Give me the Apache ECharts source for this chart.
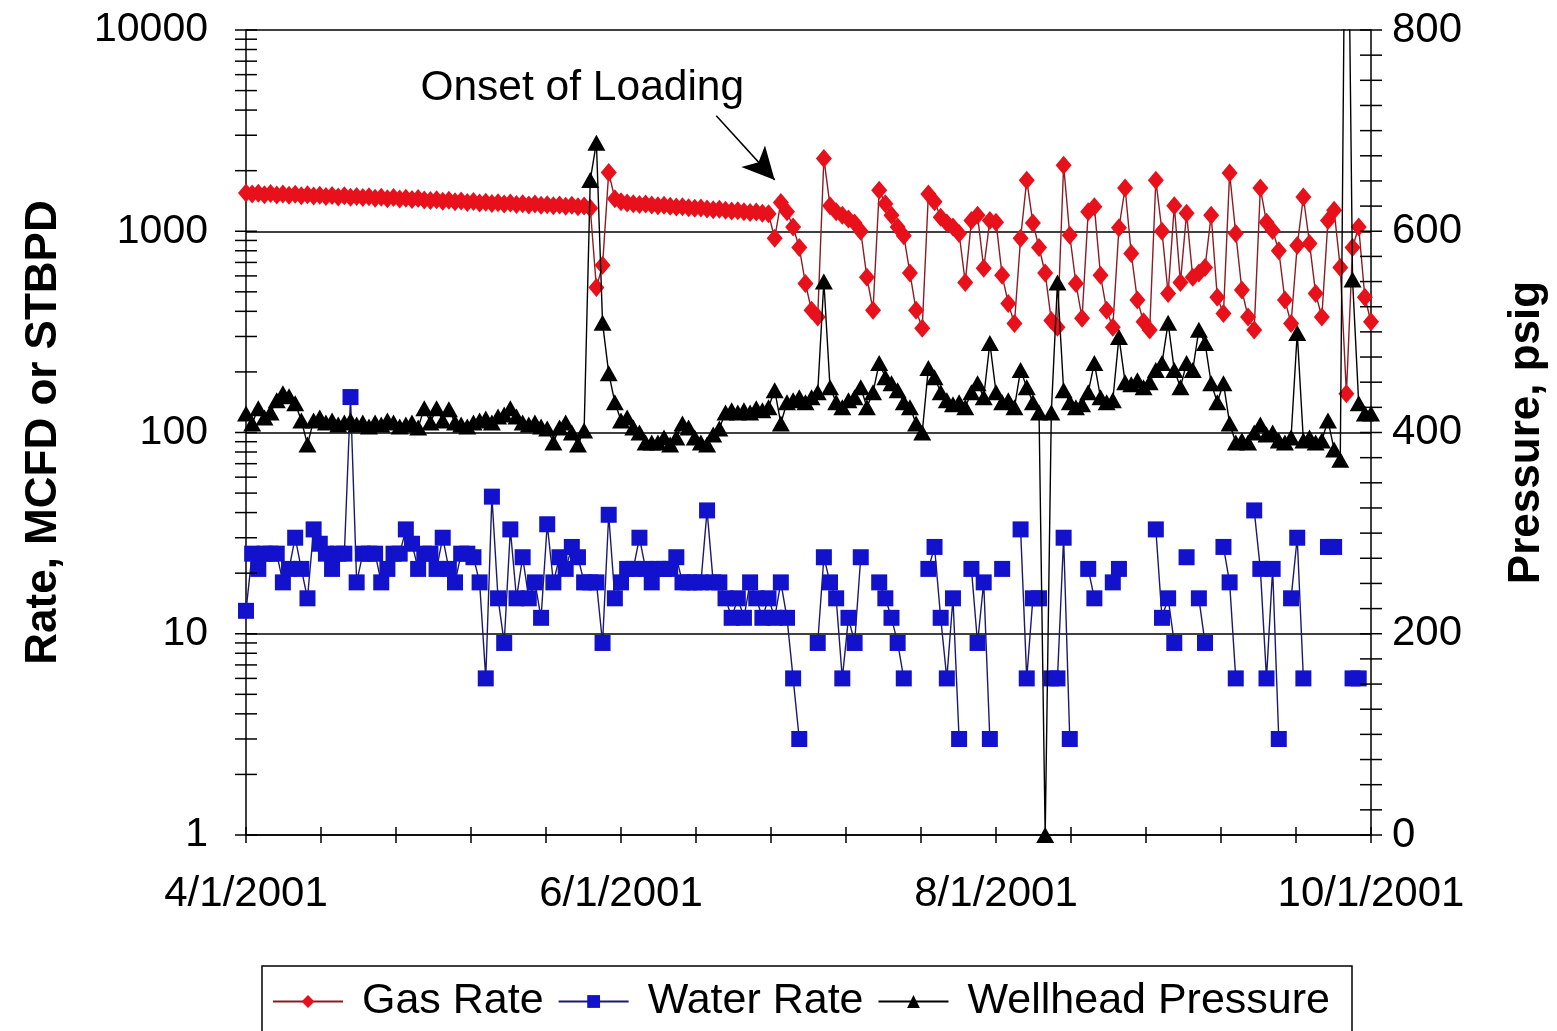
<!DOCTYPE html>
<html><head><meta charset="utf-8">
<script src="https://cdn.jsdelivr.net/npm/echarts@6/dist/echarts.min.js"></script>
<style>html,body{margin:0;padding:0;background:#fff}#c{width:1557px;height:1031px}</style>
</head><body><div id="c"></div>
<script>
// x = days since 4/1/2001 (daily data, 4/1/2001 .. 10/1/2001)
const xTickLabels = ['4/1/2001', '6/1/2001', '8/1/2001', '10/1/2001'];
const xLabelStepDays = 61;
const xMinorStepDays = 61 / 5;
const seriesNames = ['Gas Rate', 'Water Rate', 'Wellhead Pressure'];

// Gas Rate, MCFD
const gasRate = [
  1550,1530,1545,1520,1540,1515,1530,1510,1525,1500,1520,1495,1510,1490,1505,1480,1500,1475,1490,1470,1485,1460,1475,1450,1470,1445,1460,1440,1455,1430,
  1420,1435,1410,1425,1400,1415,1390,1405,1380,1395,1375,1385,1365,1380,1360,1370,1350,1365,1345,1355,1340,1350,1330,1345,1325,1335,
  1300,526,677,1960,1450,
  1400,1380,1370,1360,1365,1350,1340,1345,1330,1320,1325,1310,1300,1305,1290,1280,1285,1270,1260,1265,1250,1240,1245,1230,1220,
  923,1390,1250,1050,830,550,405,375,2300,1340,1250,1200,1150,1100,1000,590,405,1600,1370,1200,1050,950,620,405,330,
  1530,1400,1175,1100,1050,975,557,1130,1200,655,1130,1110,604,438,348,923,1794,1100,830,620,360,333,2130,955,550,370,
  1250,1325,604,405,333,1040,1640,775,455,355,323,1794,1000,490,1340,557,1230,590,620,660,1200,470,390,1945,975,510,
  375,323,1640,1110,1010,800,455,348,850,1480,870,490,375,1130,1270,660,156,830,1050,470,355
];

// Water Rate, STBPD (null = no reading)
const waterRate = [
  13,25,21,25,25,25,18,21,30,21,15,33,28,25,21,25,25,150,18,25,25,25,18,21,25,25,33,28,21,25,25,21,30,21,18,25,25,
  24,18,6,48,15,9,33,15,24,15,18,12,35,18,24,21,27,24,18,18,18,9,39,15,
  18,21,21,30,21,18,21,21,21,24,18,18,18,18,41,18,18,15,12,15,12,18,15,12,15,12,18,12,6,3,
  null,null,9,24,18,15,6,12,9,24,null,null,18,15,12,9,6,null,null,null,
  21,27,12,6,15,3,null,21,9,18,3,null,21,null,null,33,6,15,15,null,6,6,30,3,null,null,21,15,null,null,18,21,
  null,null,null,null,null,33,12,15,9,null,24,null,15,9,null,null,27,18,6,null,null,41,21,6,21,3,null,15,30,6,
  null,null,null,27,27,null,null,6,6,null,null
];

// Wellhead Pressure, psig
const wellheadPressure = [
  419,409,424,415,420,432,439,436,429,412,388,412,415,410,412,408,410,412,408,410,406,410,408,412,410,406,408,410,405,424,410,424,412,423,410,408,406,
  410,412,414,410,416,418,424,416,410,408,410,406,404,390,405,410,400,388,402,
  651,688,509,459,430,
  412,415,405,400,390,390,390,395,388,395,409,405,395,390,388,398,404,420,422,420,422,420,424,422,425,
  442,409,430,432,435,430,435,440,550,445,430,425,432,435,445,425,440,469,455,449,442,430,425,409,400,
  464,455,440,432,428,430,425,440,449,435,489,440,430,432,425,462,445,430,420,0,420,549,442,430,425,428,440,469,435,430,432,495,
  450,448,452,445,450,462,469,509,462,445,469,462,502,489,449,430,449,409,390,392,390,400,408,398,400,392,390,395,499,392,395,
  390,392,412,383,373,1100,552,429,419,419
];

const annotationText = 'Onset of Loading';

const FONT = 'Liberation Sans, Arial, Helvetica, sans-serif';
const pairs = arr => arr.map((v, i) => [i, v]);
const lastDay = xLabelStepDays * (xTickLabels.length - 1);

const chart = echarts.init(document.getElementById('c'), null, {renderer: 'canvas'});
const tickStyle = {stroke: '#000', lineWidth: 1.5};

chart.setOption({
  animation: false,
  backgroundColor: '#fff',
  grid: {left: 246, right: 182, top: 30, bottom: 196, containLabel: false},
  legend: {
    data: seriesNames,
    left: 262, top: 966,
    itemWidth: 70, itemHeight: 16, itemGap: 14,
    padding: [14, 22, 14, 10],
    borderColor: '#000', borderWidth: 1.5, borderRadius: 0,
    textStyle: {fontSize: 43, color: '#000', fontFamily: FONT, padding: [0, 0, 0, 14]}
  },
  xAxis: {
    type: 'value', min: 0, max: lastDay, interval: xLabelStepDays,
    axisLine: {show: true, lineStyle: {color: '#000', width: 1.5}},
    axisTick: {show: false},
    splitLine: {show: false},
    axisLabel: {
      margin: 38, fontSize: 42, color: '#000', fontFamily: FONT,
      formatter: v => xTickLabels[Math.round(v / xLabelStepDays)] || ''
    }
  },
  yAxis: [
    {
      type: 'log', logBase: 10, min: 1, max: 10000,
      name: 'Rate, MCFD or STBPD', nameLocation: 'middle', nameRotate: 90, nameGap: 180,
      nameTextStyle: {fontSize: 44, fontWeight: 'bold', color: '#000', fontFamily: FONT},
      axisLine: {show: true, lineStyle: {color: '#000', width: 1.5}},
      axisTick: {show: false},
      minorTick: {show: false},
      splitLine: {show: true, lineStyle: {color: '#000', width: 1.5}},
      axisLabel: {margin: 38, fontSize: 41, color: '#000', fontFamily: FONT, formatter: v => String(Math.round(v))}
    },
    {
      type: 'value', min: 0, max: 800, interval: 200, position: 'right',
      name: 'Pressure, psig', nameLocation: 'middle', nameRotate: 90, nameGap: 134,
      nameTextStyle: {fontSize: 44, fontWeight: 'bold', color: '#000', fontFamily: FONT},
      axisLine: {show: true, lineStyle: {color: '#000', width: 1.5}},
      axisTick: {show: false},
      splitLine: {show: false},
      axisLabel: {margin: 21, fontSize: 42, color: '#000', fontFamily: FONT}
    }
  ],
  series: [
    {
      name: 'Gas Rate', type: 'line', yAxisIndex: 0, data: pairs(gasRate),
      symbol: 'diamond', symbolSize: [16, 19], showSymbol: true,
      itemStyle: {color: '#e8101a'},
      lineStyle: {color: '#8a1c24', width: 1.4},
      z: 3,
      markLine: {
        silent: true, symbol: ['none', 'arrow'], symbolSize: [24, 32],
        lineStyle: {color: '#000', width: 1.5, type: 'solid'},
        label: {show: false},
        data: [[{coord: [76.5, 3750]}, {coord: [86, 1800]}]]
      },
      markPoint: {
        silent: true, symbol: 'circle', symbolSize: 1,
        itemStyle: {color: 'rgba(0,0,0,0)'},
        label: {show: true, position: 'inside', formatter: annotationText, fontSize: 42.5, color: '#000', fontFamily: FONT},
        data: [{coord: [54.7, 5150]}]
      }
    },
    {
      name: 'Water Rate', type: 'line', yAxisIndex: 0, data: pairs(waterRate),
      symbol: 'rect', symbolSize: 16, showSymbol: true, connectNulls: false,
      itemStyle: {color: '#1212cc'},
      lineStyle: {color: '#1a1a6a', width: 1.4},
      z: 4
    },
    {
      name: 'Wellhead Pressure', type: 'line', yAxisIndex: 1, data: pairs(wellheadPressure),
      symbol: 'triangle', symbolSize: [18, 16], showSymbol: true,
      itemStyle: {color: '#000'},
      lineStyle: {color: '#000', width: 1.4},
      z: 5
    },
    {
      type: 'custom', yAxisIndex: 0, silent: true, z: 10, data: [[0, 1]],
      renderItem: (params, api) => {
        const children = [];
        for (let e = 0; e < 4; e++) {
          for (let m = 1; m <= 10; m++) {
            if (m === 10 && e < 3) continue;
            const p = api.coord([0, m * Math.pow(10, e)]);
            children.push({type: 'line', shape: {x1: p[0] - 11, y1: p[1], x2: p[0] + 11, y2: p[1]}, style: tickStyle});
          }
        }
        for (let k = 0; k <= 15; k++) {
          const p = api.coord([k * xMinorStepDays, 1]);
          children.push({type: 'line', shape: {x1: p[0], y1: p[1] - 8, x2: p[0], y2: p[1] + 8}, style: tickStyle});
        }
        return {type: 'group', children};
      }
    },
    {
      type: 'custom', yAxisIndex: 1, silent: true, z: 10, data: [[0, 0]],
      renderItem: (params, api) => {
        const children = [];
        for (let v = 0; v <= 800; v += 25) {
          const p = api.coord([lastDay, v]);
          children.push({type: 'line', shape: {x1: p[0] - 11, y1: p[1], x2: p[0] + 11, y2: p[1]}, style: tickStyle});
        }
        return {type: 'group', children};
      }
    }
  ]
});
</script></body></html>
